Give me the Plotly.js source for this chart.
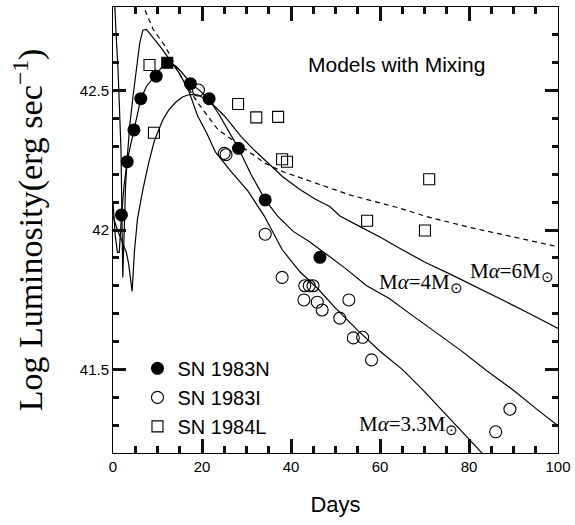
<!DOCTYPE html>
<html>
<head>
<meta charset="utf-8">
<script src="https://cdn.plot.ly/plotly-3.0.1.min.js"></script>
<style>html,body{margin:0;padding:0;background:#fff;}#chart{width:575px;height:525px;}</style>
</head>
<body>
<div id="chart"></div>
<script>
// Observed data
const sn83N_day = [1.9, 3.2, 4.7, 6.25, 9.7, 17.4, 21.6, 28.2, 34.2, 46.5];
const sn83N_L   = [42.054, 42.245, 42.359, 42.471, 42.552, 42.525, 42.471, 42.293, 42.108, 41.902];

const sn83I_day = [19.2, 25.0, 25.4, 34.2, 38.0, 43.1, 44.1, 44.95, 42.9, 45.9, 47.0, 53.0, 50.96, 54.0, 56.1, 58.1, 86.0, 89.2];
const sn83I_L   = [42.502, 42.275, 42.27, 41.985, 41.830, 41.80, 41.80, 41.80, 41.749, 41.741, 41.713, 41.749, 41.684, 41.613, 41.615, 41.534, 41.276, 41.357];

const sn84L_day = [8.2, 9.2, 12.2, 28.1, 32.2, 37.1, 38.0, 39.1, 57.1, 70.1, 71.05];
const sn84L_L   = [42.592, 42.349, 42.60, 42.452, 42.404, 42.406, 42.254, 42.245, 42.033, 41.998, 42.182];
const sn84L_filled = [false, false, true, false, false, false, false, false, false, false, false];

// Model curves
const m33_day = [0, 0.3, 0.7, 1.1, 1.5, 1.8, 2.2, 2.5, 2.8, 3.2, 3.8, 4.5, 5.2, 6.0, 6.7, 7.5, 9, 11, 13, 15, 17, 19, 21, 23, 26.5, 30.3, 34, 38, 42, 46, 50, 55, 60, 65, 70, 75, 80, 83.5];
const m33_L   = [42.95, 42.81, 42.70, 42.586, 42.42, 42.287, 41.83, 42.02, 42.15, 42.26, 42.38, 42.48, 42.57, 42.67, 42.717, 42.72, 42.69, 42.65, 42.605, 42.56, 42.50, 42.41, 42.35, 42.28, 42.21, 42.14, 42.05, 41.93, 41.85, 41.79, 41.72, 41.64, 41.565, 41.50, 41.42, 41.335, 41.25, 41.19];

const m4_day = [0, 0.5, 1.0, 1.4, 1.9, 2.5, 3.2, 4.0, 4.7, 5.5, 6.25, 7.5, 9.7, 11, 12.5, 14, 15.5, 17.4, 19.5, 21.6, 24, 26, 28.2, 31, 34.2, 37, 40.5, 44, 47, 52, 57, 62, 66.7, 72, 78, 84, 90, 95, 100];
const m4_L   = [42.1, 41.98, 41.92, 41.92, 42.05, 42.16, 42.25, 42.31, 42.365, 42.42, 42.47, 42.515, 42.56, 42.585, 42.598, 42.59, 42.565, 42.527, 42.5, 42.468, 42.41, 42.355, 42.293, 42.2, 42.108, 42.05, 41.995, 41.96, 41.925, 41.865, 41.8, 41.755, 41.70, 41.64, 41.57, 41.495, 41.425, 41.36, 41.298];

const m6_day = [0, 1, 2, 3, 3.5, 4.3, 4.8, 5.5, 6.7, 8, 9.3, 11.2, 12.5, 14.2, 15.7, 17.2, 19, 21.7, 25, 28.8, 31.5, 34.8, 38.2, 42, 45.5, 48.7, 51, 55.5, 60, 64.5, 70, 76, 82.5, 88, 94, 100];
const m6_L   = [42.05, 42.0, 41.96, 41.92, 41.88, 41.78, 41.92, 42.04, 42.144, 42.24, 42.32, 42.395, 42.43, 42.46, 42.478, 42.486, 42.485, 42.462, 42.41, 42.335, 42.29, 42.24, 42.19, 42.145, 42.11, 42.084, 42.05, 42.012, 41.975, 41.934, 41.885, 41.84, 41.79, 41.745, 41.697, 41.647];

const dash_day = [6.0, 6.9, 9, 11.7, 15.3, 19.1, 23.6, 28.8, 34.1, 38.2, 45.7, 53.2, 64.5, 70.5, 80, 90, 100];
const dash_L   = [42.85, 42.8, 42.72, 42.66, 42.55, 42.455, 42.36, 42.30, 42.24, 42.209, 42.167, 42.126, 42.078, 42.048, 42.01, 41.975, 41.94];

const legendNames = ['SN 1983N', 'SN 1983I', 'SN 1984L'];
const curveLabels = ['M<i>\u03b1</i>=6M<sub>\u2299</sub>', 'M<i>\u03b1</i>=4M<sub>\u2299</sub>', 'M<i>\u03b1</i>=3.3M<sub>\u2299</sub>'];

const lineStyle = {color: '#000', width: 1.2};
const traces = [
  {x: m33_day, y: m33_L, mode: 'lines', line: lineStyle, showlegend: false, hoverinfo: 'skip'},
  {x: m4_day, y: m4_L, mode: 'lines', line: lineStyle, showlegend: false, hoverinfo: 'skip'},
  {x: m6_day, y: m6_L, mode: 'lines', line: lineStyle, showlegend: false, hoverinfo: 'skip'},
  {x: dash_day, y: dash_L, mode: 'lines', line: {color: '#000', width: 1.2, dash: '5px,4px'}, showlegend: false, hoverinfo: 'skip'},
  {x: sn83N_day, y: sn83N_L, mode: 'markers', name: legendNames[0],
   marker: {symbol: 'circle', size: 13, color: '#000', line: {color: '#000', width: 0}}},
  {x: sn83I_day, y: sn83I_L, mode: 'markers', name: legendNames[1],
   marker: {symbol: 'circle', size: 12, color: 'rgba(0,0,0,0)', line: {color: '#000', width: 1.1}}},
  {x: sn84L_day, y: sn84L_L, mode: 'markers', name: legendNames[2],
   marker: {symbol: 'square', size: 11, color: sn84L_filled.map(f => f ? '#000' : 'rgba(0,0,0,0)'), line: {color: '#000', width: 1.1}}}
];

const layout = {
  width: 575, height: 525,
  margin: {l: 113, r: 17, t: 7, b: 72},
  font: {family: 'Liberation Sans, Arial, sans-serif', color: '#000'},
  xaxis: {
    range: [0, 100], dtick: 20, tick0: 0,
    showgrid: false, zeroline: false,
    showline: true, linecolor: '#000', mirror: 'ticks',
    ticks: 'inside', ticklen: 14, tickwidth: 3, tickcolor: '#111',
    minor: {dtick: 5, ticks: 'inside', ticklen: 7, tickwidth: 2.5, tickcolor: '#111', showgrid: false},
    tickfont: {family: 'Liberation Sans', size: 15, color: '#000'},
    title: {text: 'Days', font: {family: 'Liberation Sans', size: 22, color: '#000'}, standoff: 22}
  },
  yaxis: {
    range: [41.2, 42.8], dtick: 0.5, tick0: 41.5,
    showgrid: false, zeroline: false,
    showline: true, linecolor: '#000', mirror: 'ticks',
    ticks: 'inside', ticklen: 13, tickwidth: 3, tickcolor: '#111',
    minor: {dtick: 0.1, ticks: 'inside', ticklen: 6, tickwidth: 2.5, tickcolor: '#111', showgrid: false},
    tickfont: {family: 'Liberation Sans', size: 15, color: '#000'},
    title: {text: 'Log Luminosity(erg sec<sup>\u22121</sup>)', font: {family: 'Liberation Serif', size: 34, color: '#000'}, standoff: 26}
  },
  showlegend: true,
  legend: {x: 0.055, y: 0.2335, xanchor: 'left', yanchor: 'top', bgcolor: 'rgba(0,0,0,0)',
           font: {family: 'Liberation Sans', size: 20, color: '#000'}, tracegroupgap: 0},
  annotations: [
    {text: 'Models with Mixing', x: 63.7, y: 42.595, xref: 'x', yref: 'y', showarrow: false,
     font: {family: 'Liberation Sans', size: 21, color: '#000'}},
    {text: curveLabels[0], x: 89.7, y: 41.85, xref: 'x', yref: 'y', showarrow: false,
     font: {family: 'Liberation Serif', size: 21, color: '#000'}},
    {text: curveLabels[1], x: 69.3, y: 41.81, xref: 'x', yref: 'y', showarrow: false,
     font: {family: 'Liberation Serif', size: 21, color: '#000'}},
    {text: curveLabels[2], x: 66.5, y: 41.30, xref: 'x', yref: 'y', showarrow: false,
     font: {family: 'Liberation Serif', size: 21, color: '#000'}}
  ]
};

Plotly.newPlot('chart', traces, layout, {displayModeBar: false});
</script>
</body>
</html>
